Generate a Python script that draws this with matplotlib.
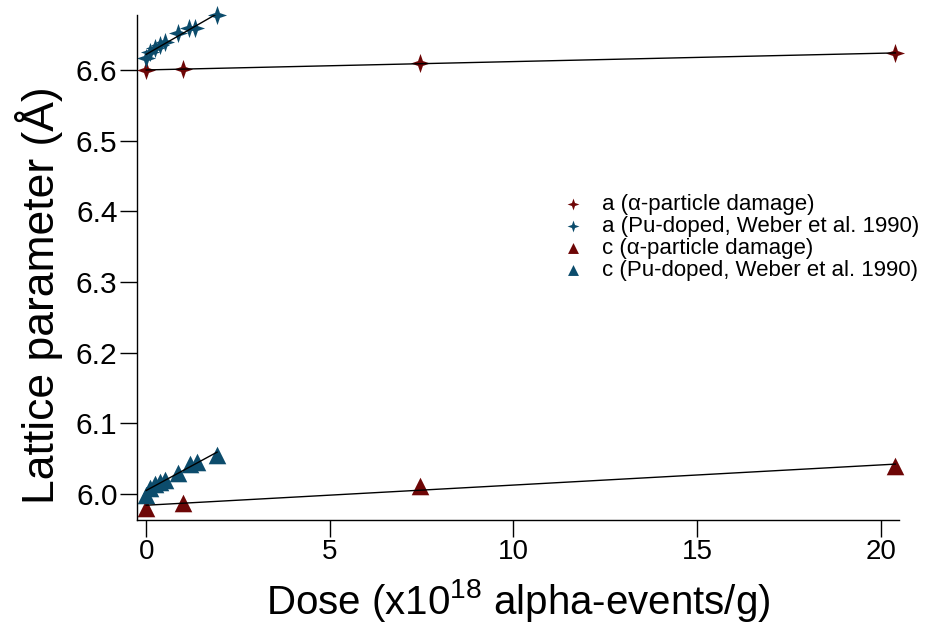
import numpy as np
import matplotlib
matplotlib.use("Agg")
import matplotlib.pyplot as plt
from matplotlib.path import Path

plt.rcParams['font.family'] = ['Liberation Sans', 'DejaVu Sans']
plt.rcParams['mathtext.fontset'] = 'custom'
plt.rcParams['mathtext.rm'] = 'Liberation Sans'
plt.rcParams['mathtext.it'] = 'Liberation Sans'

# data
dose_alpha = [0.0, 1.0, 7.46, 20.4]
a_alpha = [6.600, 6.601, 6.610, 6.624]
c_alpha = [5.980, 5.987, 6.011, 6.040]

dose_pu = [0.0, 0.11, 0.25, 0.38, 0.52, 0.87, 1.17, 1.33, 1.93]
a_pu = [6.617, 6.625, 6.631, 6.635, 6.640, 6.652, 6.659, 6.659, 6.678]
dose_pu_c = [0.0, 0.11, 0.25, 0.38, 0.52, 0.87, 1.2, 1.39, 1.93]
c_pu = [5.999, 6.008, 6.014, 6.017, 6.020, 6.030, 6.042, 6.045, 6.055]

x_ticks = [0, 5, 10, 15, 20]
y_ticks = [6.0, 6.1, 6.2, 6.3, 6.4, 6.5, 6.6]
y_ticklabels = ['6.0', '6.1', '6.2', '6.3', '6.4', '6.5', '6.6']

labels = ['a (α-particle damage)', 'a (Pu-doped, Weber et al. 1990)',
          'c (α-particle damage)', 'c (Pu-doped, Weber et al. 1990)']

red = '#6e0606'
blue = '#0c4c6c'

# 4-point star marker
verts = []
for i in range(8):
    ang = np.pi/2 + i*np.pi/4
    r = 1.0 if i % 2 == 0 else 0.36
    verts.append((r*np.cos(ang), r*np.sin(ang)))
verts.append(verts[0])
star = Path(verts, [Path.MOVETO] + [Path.LINETO]*7 + [Path.CLOSEPOLY])

fig = plt.figure(figsize=(9.25, 6.24), dpi=100)
ax = fig.add_axes([137/925, 1-520/624, (899-137)/925, (520-15)/624])

def fitline(x, y):
    p = np.polyfit(x, y, 1)
    xx = np.array([min(x), max(x)])
    ax.plot(xx, np.polyval(p, xx), color='black', lw=1.0, zorder=3)

ax.scatter(dose_alpha, a_alpha, marker=star, s=190, color=red, label=labels[0], zorder=2, clip_on=False, linewidths=0)
ax.scatter(dose_pu, a_pu, marker=star, s=190, color=blue, label=labels[1], zorder=2, clip_on=False, linewidths=0)
ax.scatter(dose_alpha, c_alpha, marker='^', s=160, color=red, label=labels[2], zorder=2, clip_on=False, linewidths=0)
ax.scatter(dose_pu_c, c_pu, marker='^', s=160, color=blue, label=labels[3], zorder=2, clip_on=False, linewidths=0)

fitline(dose_alpha, a_alpha)
fitline(dose_pu, a_pu)
fitline(dose_alpha, c_alpha)
fitline(dose_pu_c, c_pu)

ax.set_xlim(-0.25, 20.5)
ax.set_ylim(5.963, 6.678)
ax.set_xticks(x_ticks)
ax.set_yticks(y_ticks)
ax.set_yticklabels(y_ticklabels)
for s in ['top', 'right']:
    ax.spines[s].set_visible(False)
for s in ['left', 'bottom']:
    ax.spines[s].set_linewidth(1.0)
ax.tick_params(axis='both', length=12, width=1, colors='black')
ax.tick_params(axis='y', pad=2, labelsize=21.5)
ax.tick_params(axis='x', pad=2, labelsize=20)

ax.set_xlabel('Dose (x10$^{18}$ alpha-events/g)', fontsize=29, labelpad=8)
ax.set_ylabel('Lattice parameter (Å)', fontsize=32, labelpad=9)
ax.yaxis.label.set_y(0.446)

leg = ax.legend(loc='upper left', bbox_to_anchor=(0.558, 0.646), frameon=False, fontsize=16,
                handletextpad=0.8, handlelength=1.0, labelspacing=0.05, markerscale=0.62,
                borderaxespad=0, borderpad=0)

fig.savefig('out.png', dpi=100)
